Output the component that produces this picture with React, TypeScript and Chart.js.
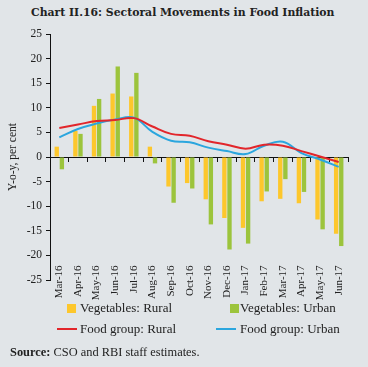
import React, { useEffect, useRef } from "react";
import { Chart, registerables } from "chart.js";
Chart.register(...registerables);

const categories = ["Mar-16", "Apr-16", "May-16", "Jun-16", "Jul-16", "Aug-16", "Sep-16", "Oct-16", "Nov-16", "Dec-16", "Jan-17", "Feb-17", "Mar-17", "Apr-17", "May-17", "Jun-17"];
const vegRural = [2.1, 5.3, 10.4, 12.9, 12.3, 2.1, -6.0, -5.3, -8.6, -12.4, -14.4, -9.0, -8.5, -9.4, -12.7, -15.6];
const vegUrban = [-2.5, 4.7, 11.8, 18.4, 17.1, -1.3, -9.3, -6.4, -13.7, -18.8, -17.6, -7.0, -4.5, -7.1, -14.7, -18.1];
const foodRural = [5.9, 6.6, 7.3, 7.5, 7.9, 6.2, 4.7, 4.3, 3.2, 2.5, 1.7, 2.5, 2.3, 1.2, 0.1, -1.0];
const foodUrban = [4.0, 5.7, 6.8, 7.6, 8.0, 5.1, 3.3, 3.0, 1.9, 1.2, 0.6, 2.3, 3.1, 0.8, -0.5, -2.0];
const yMin = -25;
const yMax = 25;
const yStep = 5;

const SERIF = "'Liberation Serif', 'DejaVu Serif', serif";
const TITLE_SERIF = "'DejaVu Serif', 'Liberation Serif', serif";
const BG = "#e1e5e8";
const ORANGE = "#fdc72c";
const GREEN = "#9cc43c";
const RED = "#e2262b";
const BLUE = "#2ba6de";

export default function App() {
  const ref = useRef<HTMLCanvasElement | null>(null);
  useEffect(() => {
    if (!ref.current) return;
    const chart = new Chart(ref.current, {
      type: "bar",
      data: {
        labels: categories,
        datasets: [
          { type: "line", label: "Food group: Rural", data: foodRural, borderColor: RED, backgroundColor: RED, borderWidth: 2, pointRadius: 0, tension: 0.4, order: 0 } as any,
          { type: "line", label: "Food group: Urban", data: foodUrban, borderColor: BLUE, backgroundColor: BLUE, borderWidth: 2, pointRadius: 0, tension: 0.4, order: 0 } as any,
          { label: "Vegetables: Rural", data: vegRural, backgroundColor: ORANGE, categoryPercentage: 0.55, barPercentage: 0.85, order: 1 },
          { label: "Vegetables: Urban", data: vegUrban, backgroundColor: GREEN, categoryPercentage: 0.55, barPercentage: 0.85, order: 1 },
        ],
      },
      options: {
        animation: false,
        responsive: false,
        maintainAspectRatio: false,
        layout: { padding: { left: 0, top: 34, right: 20, bottom: 87 } },
        plugins: { legend: { display: false }, tooltip: { enabled: false } },
        scales: {
          x: {
            type: "category",
            position: { y: -20 } as any,
            offset: true,
            grid: { display: false },
            border: { display: false },
            ticks: {
              autoSkip: false,
              minRotation: 90,
              maxRotation: 90,
              padding: 2,
              color: "#222",
              font: { family: SERIF, size: 11 },
            },
          },
          x0: {
            type: "category",
            axis: "x",
            position: { y: 0 } as any,
            offset: true,
            grid: { display: true, drawOnChartArea: false, drawTicks: true, tickLength: 4, color: "#111", offset: true },
            border: { display: true, color: "#111", width: 1 },
            ticks: { display: false },
          } as any,
          y: {
            min: yMin,
            max: yMax,
            afterFit: (s: any) => { s.width = 50; },
            ticks: { stepSize: yStep, padding: 4, color: "#222", font: { family: SERIF, size: 11.5 } },
            grid: { display: true, drawOnChartArea: false, drawTicks: true, tickLength: 4, color: "#111" },
            border: { display: true, color: "#111", width: 1 },
            title: { display: true, text: "Y-o-y, per cent", color: "#222", font: { family: SERIF, size: 11.5 }, padding: { top: 6, bottom: 0 } },
          },
        },
      },
    });
    return () => chart.destroy();
  }, []);

  const legendText: React.CSSProperties = { position: "absolute", fontFamily: SERIF, fontSize: 13, color: "#222", whiteSpace: "nowrap", lineHeight: "14px" };
  return (
    <div style={{ position: "absolute", left: 0, top: 0, width: 368, height: 367, background: BG, overflow: "hidden" }}>
      <div style={{ position: "absolute", left: 31, top: 6, fontFamily: TITLE_SERIF, fontWeight: "bold", fontSize: 10.85, color: "#222", whiteSpace: "nowrap" }}>
        Chart II.16: Sectoral Movements in Food Inflation
      </div>
      <canvas ref={ref} width={368} height={367} style={{ position: "absolute", left: 0, top: 0, width: 368, height: 367 }} />
      <div style={{ position: "absolute", left: 67, top: 304, width: 9, height: 9, background: ORANGE }} />
      <div style={{ ...legendText, left: 80, top: 301 }}>Vegetables: Rural</div>
      <div style={{ position: "absolute", left: 230, top: 304, width: 9, height: 9, background: GREEN }} />
      <div style={{ ...legendText, left: 240, top: 301 }}>Vegetables: Urban</div>
      <div style={{ position: "absolute", left: 57, top: 328, width: 20, height: 2, background: RED }} />
      <div style={{ ...legendText, left: 80, top: 322 }}>Food group: Rural</div>
      <div style={{ position: "absolute", left: 216, top: 328, width: 20, height: 2, background: BLUE }} />
      <div style={{ ...legendText, left: 240, top: 322 }}>Food group: Urban</div>
      <div style={{ position: "absolute", left: 10, top: 345, fontFamily: SERIF, fontSize: 12.4, color: "#222", whiteSpace: "nowrap" }}>
        <b>Source:</b> CSO and RBI staff estimates.
      </div>
    </div>
  );
}
